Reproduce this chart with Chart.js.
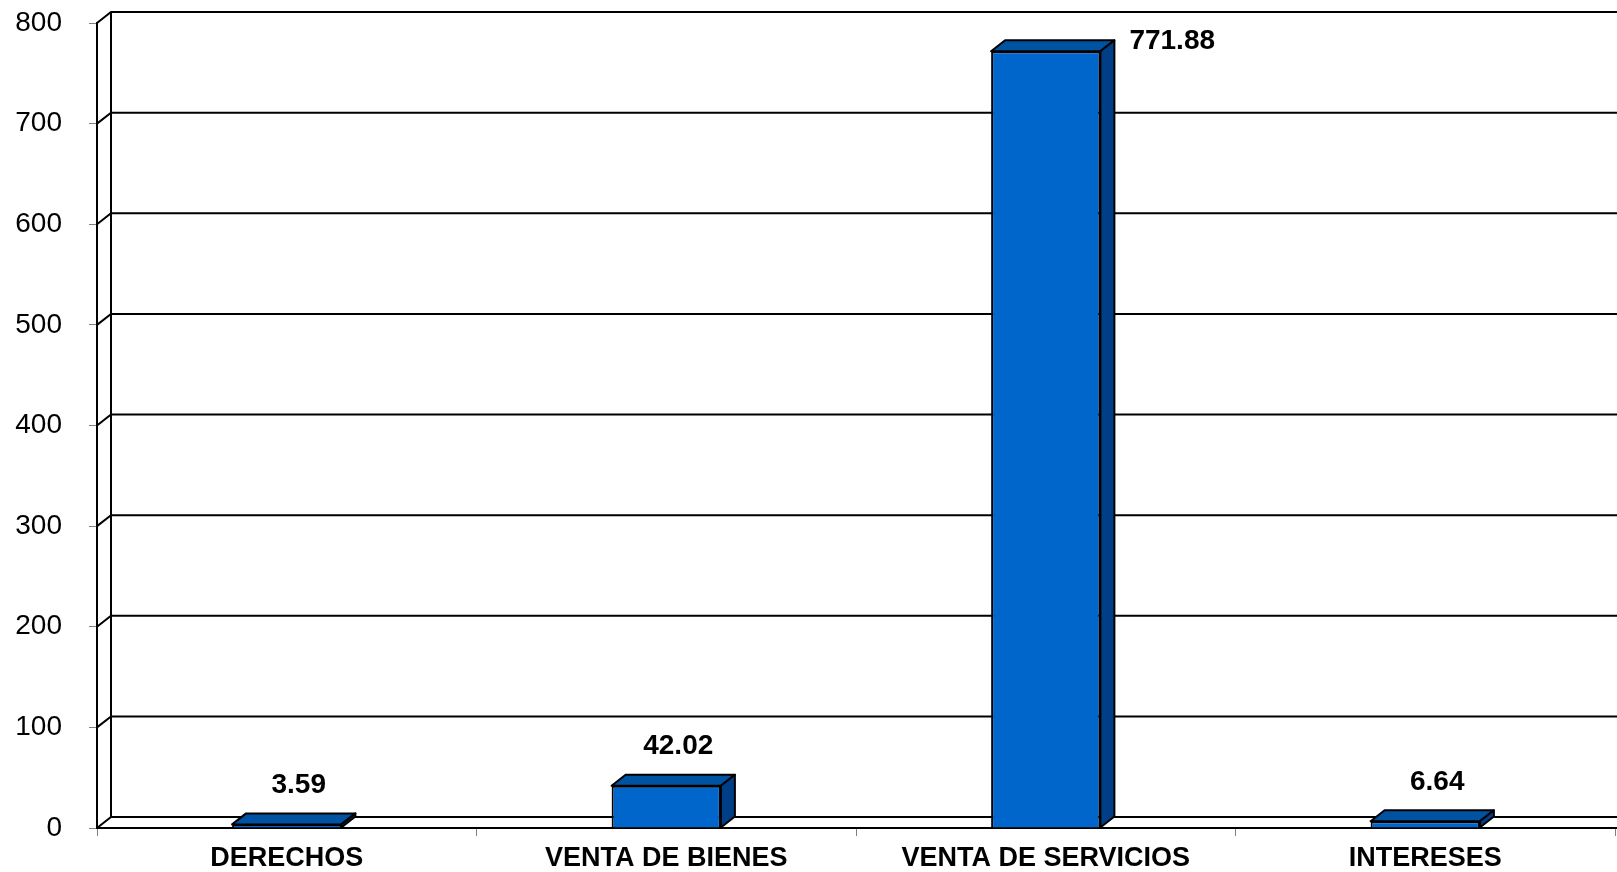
<!DOCTYPE html>
<html>
<head>
<meta charset="utf-8">
<script src="https://cdn.jsdelivr.net/npm/chart.js@4.4.0/dist/chart.umd.min.js"></script>
<style>
  html, body { margin: 0; padding: 0; background: #fff; }
  #wrap { width: 1617px; height: 872px; }
</style>
</head>
<body>
<div id="wrap"><canvas id="chart"></canvas></div>
<script>
const categories = ["DERECHOS", "VENTA DE BIENES", "VENTA DE SERVICIOS", "INTERESES"];
const values = [3.59, 42.02, 771.88, 6.64];
const yMin = 0;
const yMax = 800;
const yStep = 100;

const FONT = 'Arial, "Liberation Sans", sans-serif';
// depth of the 3d effect
const dx = 14, dy = -11;

const backWall = {
  id: 'backWall',
  beforeDatasetsDraw(chart) {
    const { ctx, chartArea: a, scales: { y } } = chart;
    ctx.save();
    ctx.strokeStyle = '#000';
    ctx.lineWidth = 2;
    ctx.beginPath();
    y.ticks.forEach(t => {
      const py = y.getPixelForValue(t.value);
      ctx.moveTo(a.left, py);
      ctx.lineTo(a.left + dx, py + dy);
      ctx.lineTo(chart.width, py + dy);
    });
    ctx.moveTo(a.left + dx, a.top + dy);
    ctx.lineTo(a.left + dx, a.bottom + dy);
    ctx.moveTo(a.right, a.bottom);
    ctx.lineTo(chart.width, a.bottom);
    ctx.stroke();
    ctx.restore();
  }
};

function poly(ctx, pts, fill) {
  ctx.beginPath();
  ctx.moveTo(pts[0][0], pts[0][1]);
  pts.slice(1).forEach(p => ctx.lineTo(p[0], p[1]));
  ctx.closePath();
  ctx.fillStyle = fill;
  ctx.fill();
  ctx.stroke();
}

const barFaces = {
  id: 'barFaces',
  afterDatasetsDraw(chart) {
    const { ctx, chartArea: a } = chart;
    const meta = chart.getDatasetMeta(0);
    ctx.save();
    ctx.strokeStyle = '#000';
    ctx.lineWidth = 2;
    ctx.lineJoin = 'round';
    meta.data.forEach((bar, i) => {
      const { x, y, base, width } = bar.getProps(['x', 'y', 'base', 'width'], true);
      const l = x - width / 2, r = x + width / 2;
      poly(ctx, [[l, y], [l + dx, y + dy], [r + dx, y + dy], [r, y]], '#0052A3');
      poly(ctx, [[r, y], [r + dx, y + dy], [r + dx, base + dy], [r, base]], '#003F87');

      // value label
      ctx.fillStyle = '#000';
      ctx.font = 'bold 28px ' + FONT;
      ctx.textBaseline = 'middle';
      const txt = values[i].toFixed(2);
      let ly = y + dy - 28;
      if (ly < a.top) {
        ctx.textAlign = 'left';
        ctx.fillText(txt, r + dx + 15, y + dy + 1);
      } else {
        ctx.textAlign = 'center';
        ctx.fillText(txt, x + 12, ly);
      }
    });
    ctx.restore();
  }
};

new Chart(document.getElementById('chart'), {
  type: 'bar',
  data: {
    labels: categories,
    datasets: [{
      data: values,
      backgroundColor: '#0066CC',
      borderColor: '#000',
      borderWidth: 2,
      barPercentage: 0.288,
      categoryPercentage: 1
    }]
  },
  options: {
    responsive: true,
    maintainAspectRatio: false,
    animation: false,
    layout: { padding: { top: 23, right: 2, left: 0, bottom: 0 } },
    plugins: { legend: { display: false }, tooltip: { enabled: false } },
    scales: {
      x: {
        offset: true,
        grid: { offset: true, drawOnChartArea: false, drawTicks: true, tickLength: 8, color: '#808080', lineWidth: 1 },
        border: { display: true, color: '#000', width: 2 },
        ticks: { color: '#000', font: { family: FONT, size: 27, weight: 'bold' }, padding: 6, maxRotation: 0 },
        afterFit(scale) { scale.height = 44; }
      },
      y: {
        min: yMin,
        max: yMax,
        ticks: { stepSize: yStep, color: '#000', font: { family: FONT, size: 28 }, padding: 27 },
        grid: { drawOnChartArea: false, drawTicks: true, tickLength: 8, color: '#808080', lineWidth: 1 },
        border: { display: true, color: '#000', width: 2 },
        afterFit(scale) {
          scale.width = 97;
          scale.paddingTop = 0;
          scale.paddingBottom = 0;
        }
      }
    }
  },
  plugins: [backWall, barFaces]
});
</script>
</body>
</html>
